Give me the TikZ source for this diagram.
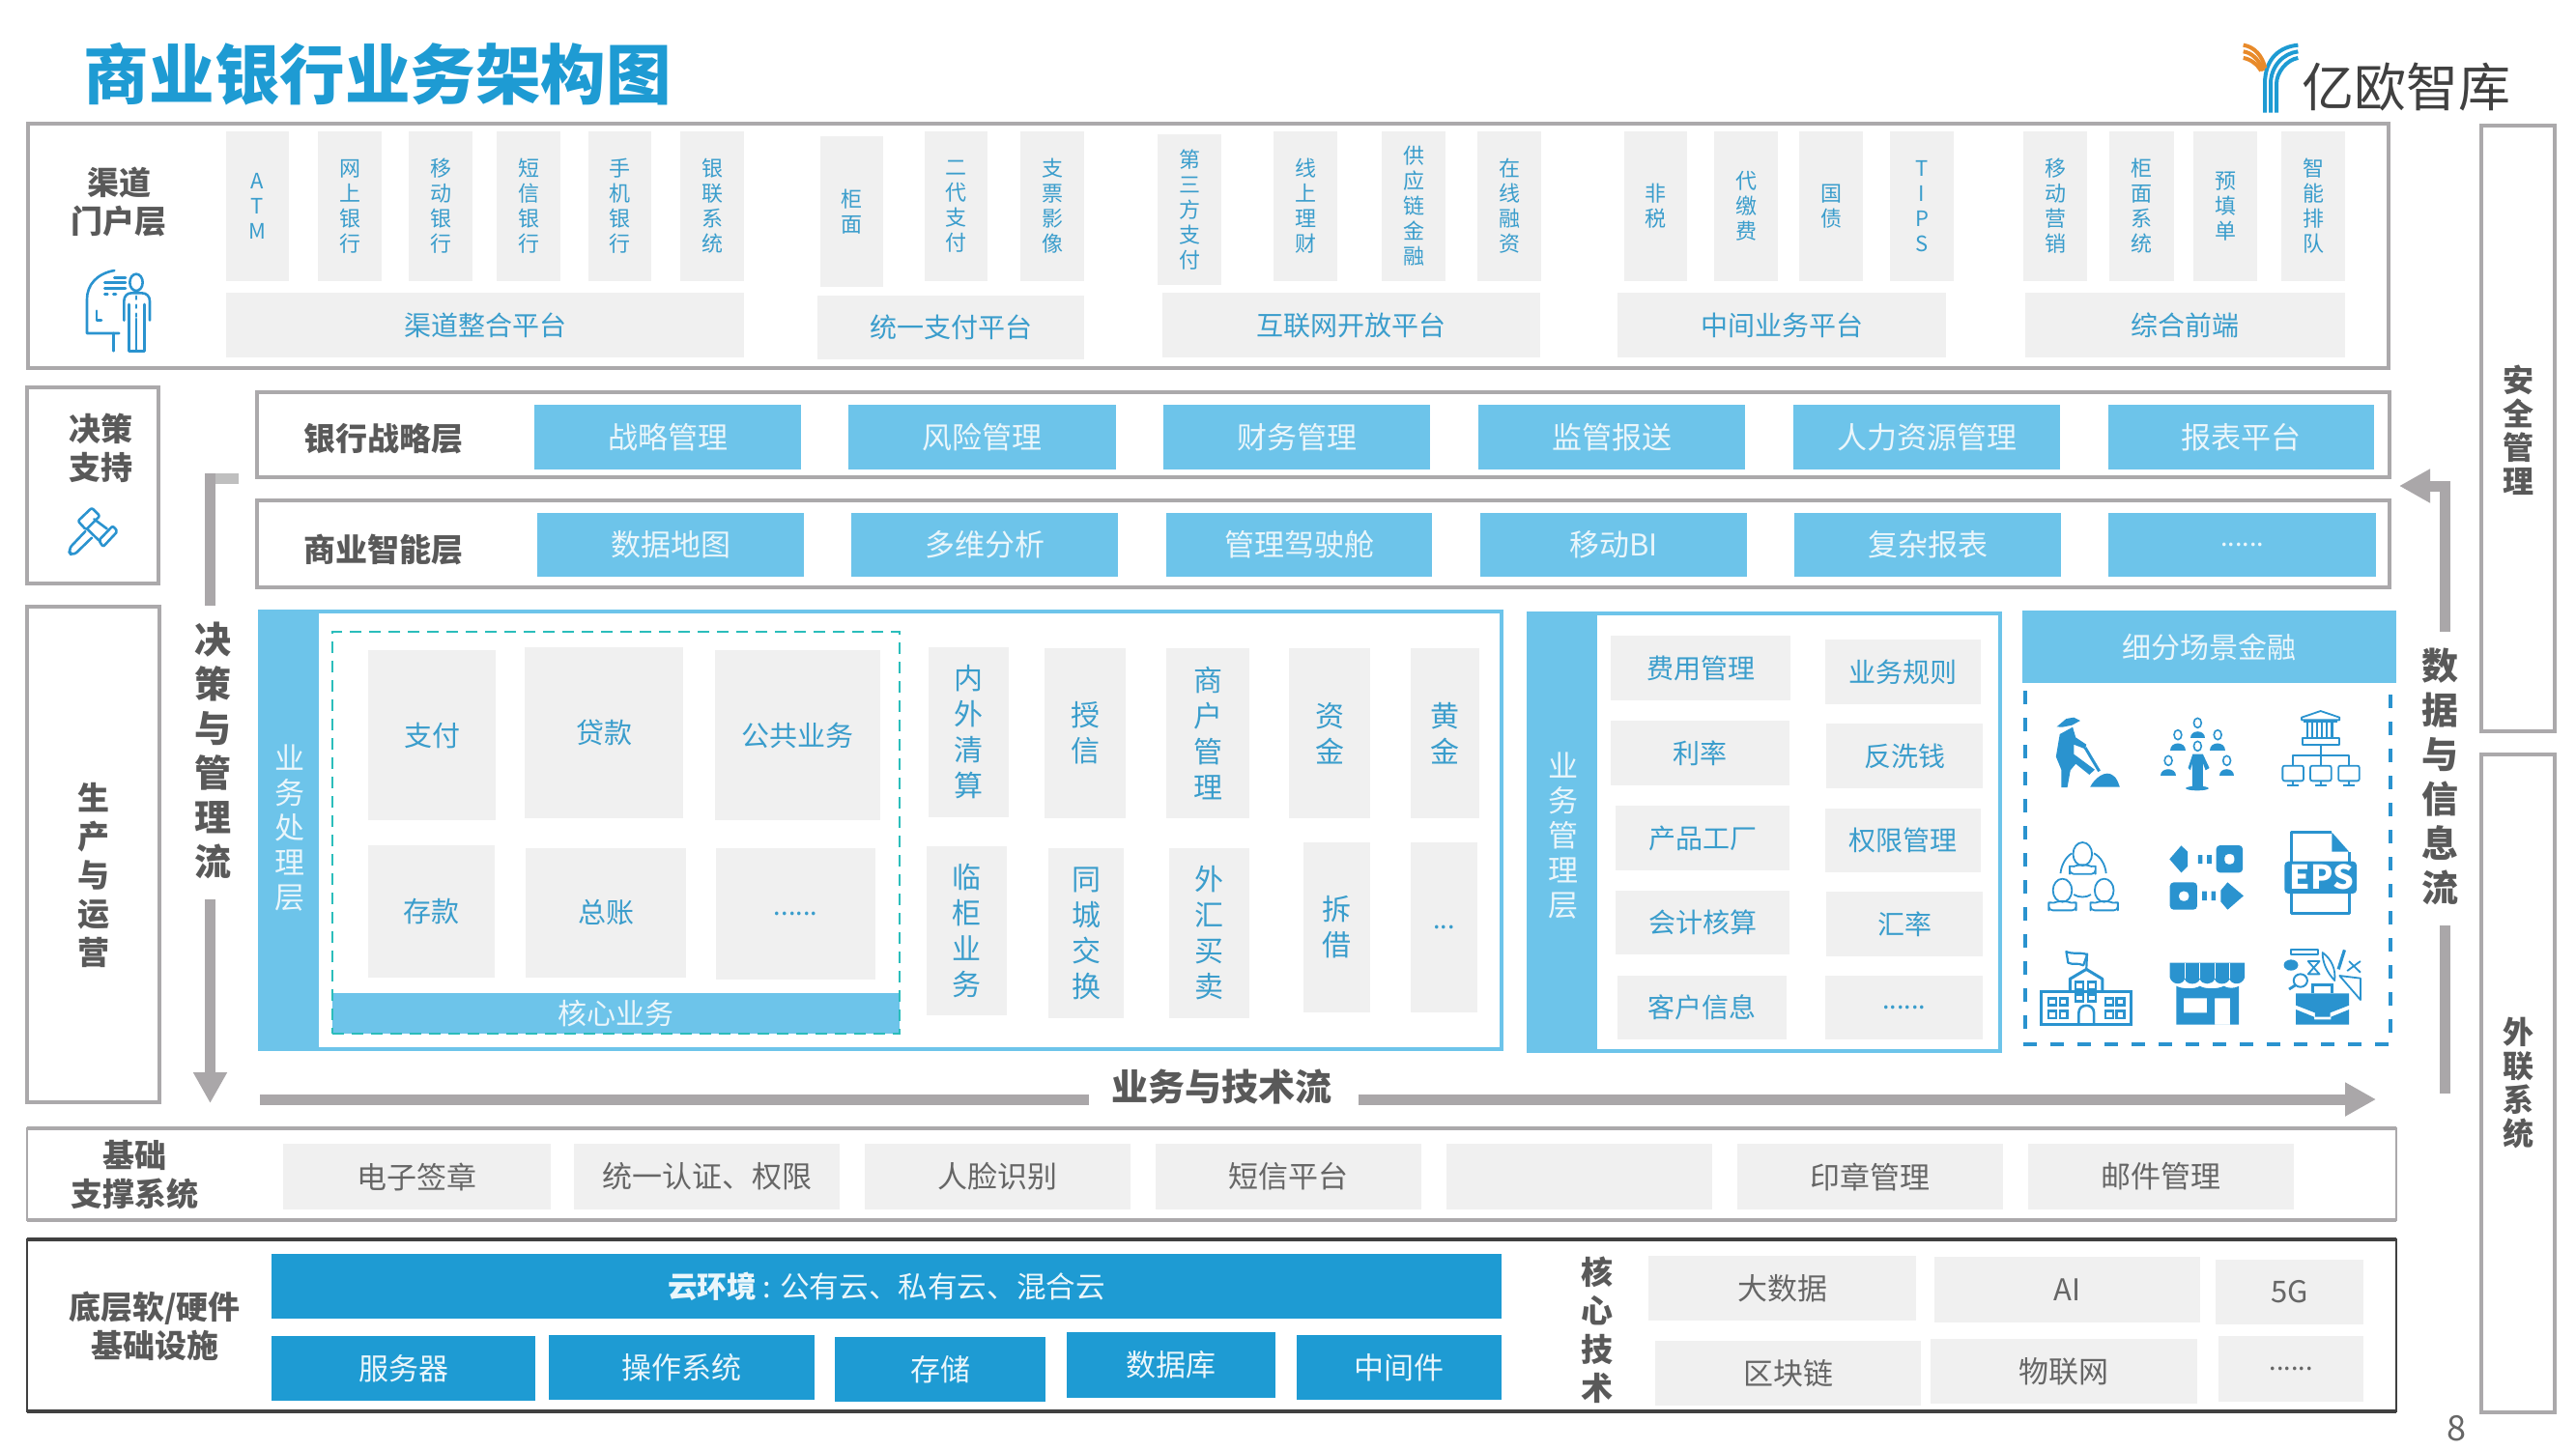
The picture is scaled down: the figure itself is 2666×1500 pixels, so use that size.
\documentclass[tikz,border=0pt]{standalone}
\usepackage{fontspec}
\setmainfont{Noto Sans CJK SC}
\usetikzlibrary{arrows.meta}
\definecolor{frameGray}{HTML}{ABA9AB}
\definecolor{flowGray}{HTML}{AAA7A9}
\definecolor{paleGray}{HTML}{F0F0F0}
\definecolor{skyBlue}{HTML}{6DC4EA}
\definecolor{deepBlue}{HTML}{1E9BD3}
\definecolor{iconBlue}{HTML}{2A93CF}
\definecolor{itemBlue}{HTML}{3A9DCC}
\definecolor{darkText}{HTML}{595959}
\definecolor{midText}{HTML}{666666}
\definecolor{paleText}{HTML}{EAF6FB}
\definecolor{tealDash}{HTML}{2BBDBB}
\definecolor{logoOrange}{HTML}{E88A2A}
\newcommand{\myBox}[7][]{\node[cell,#1,minimum width={(#5-#3)*0.5pt},minimum height={(#6-#4)*0.5pt}] (#2) at ({(#3+#5)/2},{(#4+#6)/2}) {#7};}
\newcommand{\myLab}[5][]{\node[cell,#1] (#2) at (#3,#4) {#5};}
\newcommand{\myDots}[1]{{\fontsize{13.5}{15}\selectfont #1}}
\tikzset{
 cell/.style={inner sep=0pt,outer sep=0pt,align=center},
 chanV/.style={fill=paleGray,text=itemBlue,font=\fontsize{11}{13}\selectfont},
 chanP/.style={fill=paleGray,text=itemBlue,font=\fontsize{14}{17}\selectfont},
 coreV/.style={fill=paleGray,text=itemBlue,font=\fontsize{15}{18.5}\selectfont},
 coreP/.style={fill=paleGray,text=itemBlue,font=\fontsize{14.5}{18}\selectfont},
 mgmt/.style={fill=paleGray,text=itemBlue,font=\fontsize{14}{17}\selectfont},
 sky/.style={fill=skyBlue,text=paleText,font=\fontsize{15.5}{19}\selectfont},
 deep/.style={fill=deepBlue,text=paleText,font=\fontsize{15.5}{19}\selectfont},
 lowP/.style={fill=paleGray,text=midText,font=\fontsize{15.5}{19}\selectfont},
 frameBox/.style={draw=frameGray,line width=1.6pt},
 blueFrame/.style={draw=skyBlue,line width=2pt},
 boldLab/.style={text=darkText,font=\bfseries\fontsize{16.5}{20}\selectfont},
 sideLab/.style={text=darkText,font=\bfseries\fontsize{16}{17.5}\selectfont},
 flowLab/.style={text=darkText,font=\bfseries\fontsize{19}{23}\selectfont},
 skyV/.style={text=paleText,font=\fontsize{15.5}{18}\selectfont},
 flow/.style={draw=flowGray,line width=5.5pt},
 flowTip/.style={draw=flowGray,line width=5.5pt,-{Triangle[length=16pt,width=16.5pt]}},
 icoLine/.style={draw=iconBlue,line width=1.3pt,line join=round,line cap=round},
 icoThin/.style={draw=iconBlue,line width=0.9pt,line join=round},
 icoFill/.style={fill=iconBlue},
}
\begin{document}
\begin{tikzpicture}[x=0.5pt,y=-0.5pt]
\useasboundingbox (0,0) rectangle (2666,1500);
% title and logo
\myLab[text=deepBlue,font=\bfseries\fontsize{33.8}{38}\selectfont]{title}{391}{77}{商业银行业务架构图}
\begin{scope}[shift={(2300,30)},x=0.16667pt,y=-0.16667pt]
 \foreach \a/\b/\c/\d/\e/\f in {132/90/180/55/235/50,150/115/190/75/235/70,168/135/200/95/235/90}
  \draw[deepBlue,line width=2pt] (\a,260) -- (\a,170) .. controls (\a,\b) and (\c,\d) .. (\e,\f);
 \draw[logoOrange,line width=2pt] (65,50) .. controls (100,55) and (125,85) .. (133,122);
 \draw[logoOrange,line width=2pt] (65,70) .. controls (90,73) and (115,95) .. (127,130);
 \draw[logoOrange,line width=2pt] (65,90) .. controls (85,93) and (108,108) .. (120,130);
\end{scope}
\myLab[text=black!75,font=\fontsize{27}{30}\selectfont]{logoText}{2490}{90}{亿欧智库}
% channel layer
\myBox[frameBox]{chanFrame}{29}{128}{2472}{381}{}
\myLab[boldLab]{chanLab}{123}{209}{渠道\\门户层}
\begin{scope}[shift={(60,265)},x=0.16667pt,y=-0.16667pt]
 \draw[icoLine] (175,45) .. controls (120,55) and (90,90) .. (90,135) -- (90,240) -- (190,240);
 \draw[icoLine] (172,240) -- (172,295);
 \draw[icoLine] (120,170) -- (120,200) -- (135,200);
 \draw[icoLine] (175,68) -- (210,68) (145,83) -- (210,83) (145,100) -- (210,100);
 \draw[icoLine,dash pattern=on 1.5pt off 3pt] (145,118) -- (180,118);
 \draw[icoLine] (243,82) ellipse [x radius=20,y radius=26];
 \draw[icoLine] (205,200) -- (205,140) .. controls (205,125) and (215,115) .. (228,115) -- (260,115) .. controls (275,115) and (285,125) .. (285,140) -- (285,200);
 \draw[icoLine] (220,150) -- (220,295) -- (268,295) -- (268,150);
 \draw[icoLine,dash pattern=on 1.5pt off 3pt] (243,125) -- (243,190);
 \draw[icoLine] (243,195) -- (243,295);
\end{scope}
\myBox[chanV]{ch1}{234}{136}{299}{291}{A\\T\\M}
\myBox[chanV]{ch2}{329}{136}{395}{291}{网\\上\\银\\行}
\myBox[chanV]{ch3}{423}{136}{489}{291}{移\\动\\银\\行}
\myBox[chanV]{ch4}{514}{136}{580}{291}{短\\信\\银\\行}
\myBox[chanV]{ch5}{609}{136}{674}{291}{手\\机\\银\\行}
\myBox[chanV]{ch6}{704}{136}{770}{291}{银\\联\\系\\统}
\myBox[chanV]{ch7}{849}{141}{914}{297}{柜\\面}
\myBox[chanV]{ch8}{957}{136}{1022}{291}{二\\代\\支\\付}
\myBox[chanV]{ch9}{1056}{136}{1122}{291}{支\\票\\影\\像}
\myBox[chanV]{ch10}{1198}{139}{1264}{295}{第\\三\\方\\支\\付}
\myBox[chanV]{ch11}{1318}{136}{1384}{291}{线\\上\\理\\财}
\myBox[chanV]{ch12}{1430}{136}{1496}{291}{供\\应\\链\\金\\融}
\myBox[chanV]{ch13}{1529}{136}{1595}{291}{在\\线\\融\\资}
\myBox[chanV]{ch14}{1681}{136}{1746}{291}{非\\税}
\myBox[chanV]{ch15}{1774}{136}{1840}{291}{代\\缴\\费}
\myBox[chanV]{ch16}{1862}{136}{1928}{291}{国\\债}
\myBox[chanV]{ch17}{1956}{136}{2022}{291}{T\\I\\P\\S}
\myBox[chanV]{ch18}{2094}{136}{2160}{291}{移\\动\\营\\销}
\myBox[chanV]{ch19}{2183}{136}{2250}{291}{柜\\面\\系\\统}
\myBox[chanV]{ch20}{2270}{136}{2336}{291}{预\\填\\单}
\myBox[chanV]{ch21}{2361}{136}{2427}{291}{智\\能\\排\\队}
\myBox[chanP]{plat1}{234}{303}{770}{370}{渠道整合平台}
\myBox[chanP]{plat2}{846}{306}{1122}{372}{统一支付平台}
\myBox[chanP]{plat3}{1203}{303}{1594}{370}{互联网开放平台}
\myBox[chanP]{plat4}{1674}{303}{2014}{370}{中间业务平台}
\myBox[chanP]{plat5}{2096}{303}{2427}{370}{综合前端}
% decision box
\myBox[frameBox]{decFrame}{28}{401}{164}{604}{}
\myLab[boldLab]{decLab}{104}{464}{决策\\支持}
\begin{scope}[shift={(40,510)},x=0.16667pt,y=-0.16667pt]
 \draw[icoLine,rounded corners=1pt] (122,88) -- (165,47) -- (190,72) -- (147,115) -- cycle;
 \draw[icoLine,rounded corners=1pt] (187,148) -- (230,103) -- (245,120) -- (200,168) -- cycle;
 \draw[icoLine] (172,82) -- (212,112) (150,112) -- (187,148);
 \draw[icoLine,rounded corners=3pt] (145,120) -- (90,178) -- (105,198) -- (165,140);
\end{scope}
% production box
\myBox[frameBox]{prodFrame}{28}{628}{165}{1141}{}
\myLab[boldLab]{prodLab}{97}{906}{生\\产\\与\\运\\营}
% strategy and BI
\myBox[frameBox]{stratFrame}{266}{406}{2473}{494}{}
\myLab[boldLab]{stratLab}{397}{454}{银行战略层}
\myBox[sky]{st1}{553}{419}{829}{486}{战略管理}
\myBox[sky]{st2}{878}{419}{1155}{486}{风险管理}
\myBox[sky]{st3}{1204}{419}{1480}{486}{财务管理}
\myBox[sky]{st4}{1530}{419}{1806}{486}{监管报送}
\myBox[sky]{st5}{1856}{419}{2132}{486}{人力资源管理}
\myBox[sky]{st6}{2182}{419}{2457}{486}{报表平台}
\myBox[frameBox]{biFrame}{266}{518}{2473}{608}{}
\myLab[boldLab]{biLab}{397}{569}{商业智能层}
\myBox[sky]{bi1}{556}{531}{832}{597}{数据地图}
\myBox[sky]{bi2}{881}{531}{1157}{597}{多维分析}
\myBox[sky]{bi3}{1207}{531}{1482}{597}{管理驾驶舱}
\myBox[sky]{bi4}{1532}{531}{1808}{597}{移动BI}
\myBox[sky]{bi5}{1857}{531}{2133}{597}{复杂报表}
\myBox[sky]{bi6}{2182}{531}{2459}{597}{\myDots{......}}
% business processing layer
\myBox[blueFrame]{procFrame}{269}{633}{1554}{1086}{}
\myBox[fill=skyBlue]{procBand}{267}{631}{330}{1088}{}
\myLab[skyV]{procLab}{300}{857}{业\\务\\处\\理\\层}
\myBox[fill=skyBlue,text=paleText,font=\fontsize{15}{18}\selectfont]{coreBar}{344}{1028}{931}{1070}{核心业务}
\myBox[draw=tealDash,line width=1.2pt,dash pattern=on 6pt off 4pt]{coreDash}{344}{654}{931}{1070}{}
\myBox[coreP]{cp1}{381}{673}{513}{849}{支付}
\myBox[coreP]{cp2}{543}{670}{707}{847}{贷款}
\myBox[coreP]{cp3}{740}{673}{911}{849}{公共业务}
\myBox[coreP]{cp4}{381}{875}{512}{1012}{存款}
\myBox[coreP]{cp5}{544}{878}{710}{1012}{总账}
\myBox[coreP]{cp6}{741}{878}{906}{1014}{\myDots{......}}
\myBox[coreV]{cv1}{961}{670}{1044}{846}{内\\外\\清\\算}
\myBox[coreV]{cv2}{1081}{671}{1165}{847}{授\\信}
\myBox[coreV]{cv3}{1207}{671}{1293}{847}{商\\户\\管\\理}
\myBox[coreV]{cv4}{1334}{671}{1418}{847}{资\\金}
\myBox[coreV]{cv5}{1460}{671}{1531}{847}{黄\\金}
\myBox[coreV]{cv6}{959}{876}{1042}{1051}{临\\柜\\业\\务}
\myBox[coreV]{cv7}{1085}{878}{1163}{1054}{同\\城\\交\\换}
\myBox[coreV]{cv8}{1210}{878}{1293}{1054}{外\\汇\\买\\卖}
\myBox[coreV]{cv9}{1349}{872}{1418}{1048}{拆\\借}
\myBox[coreV]{cv10}{1460}{872}{1529}{1048}{\myDots{...}}
% business management layer
\myBox[blueFrame]{mgFrame}{1582}{635}{2070}{1088}{}
\myBox[fill=skyBlue]{mgBand}{1580}{633}{1653}{1090}{}
\myLab[skyV]{mgLab}{1618}{865}{业\\务\\管\\理\\层}
\myBox[mgmt]{mg1}{1667}{658}{1853}{725}{费用管理}
\myBox[mgmt]{mg2}{1889}{662}{2050}{729}{业务规则}
\myBox[mgmt]{mg3}{1667}{746}{1852}{813}{利率}
\myBox[mgmt]{mg4}{1890}{749}{2052}{816}{反洗钱}
\myBox[mgmt]{mg5}{1672}{834}{1852}{901}{产品工厂}
\myBox[mgmt]{mg6}{1889}{837}{2050}{903}{权限管理}
\myBox[mgmt]{mg7}{1672}{922}{1852}{988}{会计核算}
\myBox[mgmt]{mg8}{1890}{923}{2052}{990}{汇率}
\myBox[mgmt]{mg9}{1674}{1010}{1849}{1076}{客户信息}
\myBox[mgmt]{mg10}{1889}{1010}{2052}{1076}{\myDots{......}}
% scenario finance
\myBox[fill=skyBlue,text=paleText,font=\fontsize{15}{18}\selectfont]{sceneHead}{2093}{632}{2480}{707}{细分场景金融}
\coordinate (sdA) at (2096,715);
\coordinate (sdB) at (2096,1081);
\coordinate (sdC) at (2474,1081);
\coordinate (sdD) at (2474,715);
\draw[iconBlue,line width=1.6pt,dash pattern=on 7pt off 7pt] (sdA) -- (sdB) -- (sdC) -- (sdD);
\begin{scope}[shift={(2050,620)},x=0.19646pt,y=-0.16667pt]
 % farmer
 \fill[iconBlue] (200,397) -- (225,372) -- (245,368) -- (262,378) -- (240,392) -- (215,398) -- cycle;
 \fill[iconBlue] (208,420) -- (242,398) -- (250,430) -- (278,452) -- (275,466) -- (245,452) -- (245,482) -- (300,530) -- (286,546) -- (250,512) -- (236,532) -- (228,585) -- (212,585) -- (212,530) -- (198,490) -- cycle;
 \draw[iconBlue,line width=1.5pt] (275,462) -- (312,535);
 \fill[iconBlue] (288,584) .. controls (300,555) and (330,530) .. (348,548) .. controls (358,555) and (362,570) .. (366,584) -- cycle;
 % group
 \foreach \px/\py in {571/385,519/422,624/422,494/502,648/502}{
  \fill[iconBlue] (\px-20,\py+48) .. controls (\px-20,\py+20) and (\px+20,\py+20) .. (\px+20,\py+48) -- cycle;
  \draw[iconBlue,fill=white,line width=0.8pt] (\px,\py) ellipse [x radius=10,y radius=15];
 }
 \draw[iconBlue,fill=white,line width=0.8pt] (571,457) ellipse [x radius=10,y radius=15];
 \fill[iconBlue] (546,525) -- (558,482) -- (585,482) -- (602,525) -- (592,532) -- (585,510) -- (585,582) -- (557,582) -- (557,510) -- (552,532) -- cycle;
 \fill[iconBlue] (570,588) ellipse [x radius=30,y radius=7];
 % bank
 \draw[icoThin,fill=white] (845,376) -- (845,368) -- (895,348) -- (945,368) -- (945,376) -- cycle;
 \foreach \cx in {860,873,886,899,912,925}{\draw[iconBlue,line width=1.1pt] (\cx,380) -- (\cx,428);}
 \draw[icoThin] (850,380) -- (940,380);
 \draw[icoThin] (848,432) rectangle (945,452);
 \draw[icoThin] (895,452) -- (895,518) (822,518) -- (822,486) -- (970,486) -- (970,518);
 \foreach \mx in {795,868,942}{
  \draw[icoThin,rounded corners=1pt] (\mx,518) rectangle (\mx+55,565);
  \draw[iconBlue,line width=0.9pt] (\mx+27,565) -- (\mx+27,578) (\mx+12,580) -- (\mx+43,580);
 }
 % meeting people
 \foreach \hx/\hy/\hw in {268/792/34,215/905/36,325/905/36}{
  \draw[icoThin] (\hx,\hy) ellipse [x radius=25,y radius=36];
  \draw[icoThin,rounded corners=2pt] (\hx-\hw,\hy+62) -- (\hx-\hw,\hy+50) .. controls (\hx-\hw,\hy+38) and (\hx-22,\hy+38) .. (\hx-14,\hy+34) -- (\hx+14,\hy+34) .. controls (\hx+22,\hy+38) and (\hx+\hw,\hy+38) .. (\hx+\hw,\hy+50) -- (\hx+\hw,\hy+62) -- cycle;
 }
 \draw[icoThin] (210,852) .. controls (212,825) and (225,800) .. (240,790);
 \draw[icoThin] (330,852) .. controls (328,825) and (315,800) .. (298,790);
 \draw[icoThin] (245,918) .. controls (258,928) and (278,928) .. (290,918);
 % exchange arrows
 \fill[iconBlue] (497,808) -- (528,766) -- (545,785) -- (545,830) -- (528,850) -- cycle;
 \fill[iconBlue] (572,795) rectangle (584,822) (596,795) rectangle (608,822);
 \fill[iconBlue,rounded corners=2pt,even odd rule] (620,765) rectangle (690,850) (642,792) rectangle (668,824);
 \fill[iconBlue,rounded corners=2pt,even odd rule] (498,880) rectangle (570,965) (522,908) rectangle (548,938);
 \fill[iconBlue] (583,908) rectangle (595,936) (607,908) rectangle (619,936);
 \fill[iconBlue] (632,905) -- (650,880) -- (692,922) -- (650,965) -- (632,940) -- cycle;
 % EPS file
 \draw[iconBlue,line width=1.5pt,line join=round] (925,725) -- (818,725) -- (818,975) -- (970,975) -- (970,785);
 \fill[iconBlue] (925,725) -- (970,785) -- (925,785) -- cycle;
 \fill[iconBlue,rounded corners=2pt] (800,815) rectangle (990,915);
 % school
 \draw[iconBlue,line width=1.1pt,line join=round] (225,1095) .. controls (240,1105) and (265,1095) .. (280,1105) -- (270,1138) .. controls (255,1128) and (245,1138) .. (230,1130) -- cycle;
 \draw[iconBlue,line width=1.1pt] (280,1100) -- (278,1150);
 \draw[iconBlue,line width=1.5pt,line join=round] (235,1220) -- (235,1180) -- (278,1150) -- (320,1180) -- (320,1220);
 \draw[iconBlue,line width=1.5pt] (160,1220) rectangle (395,1320);
 \foreach \wx/\wy in {250/1190,283/1190,250/1228,283/1228,178/1240,208/1240,178/1280,208/1280,328/1240,358/1240,328/1280,358/1280}{
  \draw[iconBlue,line width=1.2pt] (\wx,\wy) rectangle (\wx+20,\wy+22);}
 \draw[iconBlue,line width=1.3pt] (258,1320) -- (258,1285) .. controls (258,1255) and (298,1255) .. (298,1285) -- (298,1320);
 % shop
 \fill[iconBlue] (498,1130) -- (695,1130) -- (695,1175) .. controls (690,1200) and (660,1200) .. (655,1180) .. controls (650,1200) and (620,1200) .. (616,1180) .. controls (610,1200) and (582,1200) .. (577,1180) .. controls (572,1200) and (542,1200) .. (537,1180) .. controls (532,1200) and (503,1200) .. (498,1175) -- cycle;
 \foreach \sx in {537,577,616,655}{\draw[white,line width=0.5pt] (\sx,1130) -- (\sx,1180);}
 \fill[iconBlue,even odd rule] (515,1202) .. controls (530,1212) and (565,1212) .. (577,1202) .. controls (590,1212) and (625,1212) .. (640,1202) .. controls (650,1210) and (670,1210) .. (680,1202) -- (680,1322) -- (515,1322) -- cycle (534,1240) rectangle (596,1285) (616,1240) rectangle (657,1322);
 % briefcase and tools
 \fill[iconBlue] (830,1225) -- (970,1225) -- (970,1262) -- (920,1285) -- (920,1298) -- (880,1298) -- (880,1285) -- (830,1262) -- cycle;
 \fill[iconBlue] (830,1275) -- (878,1298) -- (878,1306) -- (922,1306) -- (922,1298) -- (970,1275) -- (970,1322) -- (830,1322) -- cycle;
 \draw[iconBlue,line width=1.5pt] (875,1225) -- (875,1197) -- (925,1197) -- (925,1225);
 \draw[icoThin] (817,1088) rectangle (888,1105);
 \fill[iconBlue] (817,1137) ellipse [x radius=19,y radius=17];
 \draw[iconBlue,line width=1pt] (842,1185) ellipse [x radius=18,y radius=20];
 \draw[iconBlue,line width=1.4pt] (828,1200) -- (812,1212);
 \draw[icoThin] (862,1125) -- (892,1125) -- (862,1165) -- (892,1165) -- cycle;
 \draw[icoThin] (900,1098) .. controls (925,1120) and (935,1150) .. (932,1185) .. controls (912,1160) and (900,1130) .. (900,1098) -- cycle;
 \draw[iconBlue,line width=1.6pt] (958,1090) -- (942,1150);
 \draw[icoThin] (1000,1125) -- (965,1155) (970,1125) -- (1000,1160);
 \draw[icoThin] (945,1170) -- (1000,1178) -- (1000,1245) -- cycle;
\end{scope}
\myLab[text=white,font=\bfseries\fontsize{17}{20}\selectfont]{epsLab}{2403}{908}{EPS}
% flows
\coordinate (leftA) at (217.5,490);
\coordinate (leftB) at (217.5,627);
\coordinate (leftC) at (217.5,931);
\coordinate (leftD) at (217.5,1142);
\fill[black!25] (215,490) rectangle (247,501);
\draw[flow] (leftA) -- (leftB);
\draw[flowTip] (leftC) -- (leftD);
\myLab[flowLab]{leftLab}{220}{777}{决\\策\\与\\管\\理\\流}
\coordinate (rightA) at (2530,654);
\coordinate (rightCorner) at (2530,503);
\coordinate (rightTip) at (2483,503);
\coordinate (rightB) at (2530,958);
\coordinate (rightC) at (2530,1132);
\draw[flowTip] (rightA) -- (rightCorner) -- (rightTip);
\draw[flow] (rightB) -- (rightC);
\myLab[flowLab]{rightLab}{2525}{804}{数\\据\\与\\信\\息\\流}
\coordinate (techA) at (269,1138);
\coordinate (techB) at (1127,1138);
\coordinate (techC) at (1406,1138);
\coordinate (techD) at (2459,1138);
\draw[flow] (techA) -- (techB);
\draw[flowTip] (techC) -- (techD);
\myLab[flowLab]{techLab}{1264}{1125}{业务与技术流}
% right columns
\myBox[frameBox]{secFrame}{2568}{130}{2644}{757}{}
\myLab[sideLab]{secLab}{2606}{445}{安\\全\\管\\理}
\myBox[frameBox]{extFrame}{2568}{781}{2644}{1462}{}
\myLab[sideLab]{extLab}{2606}{1121}{外\\联\\系\\统}
% support systems
\myBox[draw=frameGray,line width=0.8pt]{supFrame}{28}{1168}{2480}{1263}{}
\draw[frameGray,line width=2.2pt] (supFrame.north west) -- (supFrame.north east) (supFrame.south west) -- (supFrame.south east);
\myLab[boldLab]{supLab}{139}{1216}{基础\\支撑系统}
\myBox[lowP]{sp1}{293}{1184}{570}{1252}{电子签章}
\myBox[lowP]{sp2}{594}{1184}{869}{1252}{统一认证、权限}
\myBox[lowP]{sp3}{895}{1184}{1170}{1252}{人脸识别}
\myBox[lowP]{sp4}{1196}{1184}{1471}{1252}{短信平台}
\myBox[lowP]{sp5}{1497}{1184}{1772}{1252}{}
\myBox[lowP]{sp6}{1798}{1184}{2073}{1252}{印章管理}
\myBox[lowP]{sp7}{2099}{1184}{2374}{1252}{邮件管理}
% infrastructure
\myBox[draw=black!75,line width=0.7pt]{infFrame}{28}{1283}{2480}{1461}{}
\draw[black!75,line width=1.8pt] (infFrame.north west) -- (infFrame.north east) (infFrame.south west) -- (infFrame.south east);
\myLab[boldLab]{infLab}{160}{1373}{底层软/硬件\\基础设施}
\myBox[deep,font=\fontsize{15.3}{19}\selectfont]{cloud}{281}{1298}{1554}{1365}{{\bfseries 云环境} : 公有云、私有云、混合云}
\myBox[deep]{dp1}{281}{1383}{554}{1450}{服务器}
\myBox[deep]{dp2}{568}{1382}{843}{1449}{操作系统}
\myBox[deep]{dp3}{864}{1384}{1082}{1451}{存储}
\myBox[deep]{dp4}{1104}{1379}{1320}{1447}{数据库}
\myBox[deep]{dp5}{1342}{1382}{1554}{1449}{中间件}
\myLab[boldLab]{techCoreLab}{1653}{1377}{核\\心\\技\\术}
\myBox[lowP]{tc1}{1706}{1300}{1983}{1367}{大数据}
\myBox[lowP]{tc2}{2002}{1301}{2277}{1369}{AI}
\myBox[lowP]{tc3}{2293}{1304}{2446}{1371}{5G}
\myBox[lowP]{tc4}{1713}{1388}{1988}{1455}{区块链}
\myBox[lowP]{tc5}{1998}{1386}{2274}{1453}{物联网}
\myBox[lowP]{tc6}{2296}{1383}{2446}{1451}{\myDots{......}}
\myLab[text=midText,font=\fontsize{18}{20}\selectfont]{pageNum}{2542}{1479}{8}
\end{tikzpicture}
\end{document}
